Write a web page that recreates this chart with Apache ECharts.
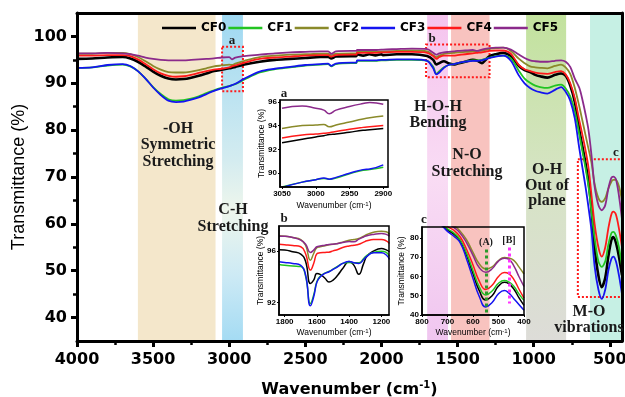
<!DOCTYPE html>
<html>
<head>
<meta charset="utf-8">
<script src="https://cdn.jsdelivr.net/npm/echarts@6/dist/echarts.min.js"></script>
<style>
  html, body { margin: 0; padding: 0; background: #fff; }
  #chart { width: 625px; height: 397px; }
</style>
</head>
<body>
<div id="chart"></div>
<script>
const names = ["CF0", "CF1", "CF2", "CF3", "CF4", "CF5"];
const colors = ["#000000", "#22c422", "#8a8a2a", "#1414f0", "#ff1a1a", "#8b2a8b"];

// main spectrum (cm-1 vs %T)
const wavenumber = [4000, 3900, 3800, 3700, 3650, 3600, 3550, 3500, 3450, 3400,
  3350, 3300, 3250, 3200, 3150, 3100, 3050, 3000, 2982, 2960,
  2900, 2800, 2700, 2600, 2500, 2400, 2350, 2330, 2300, 2200,
  2165, 2160, 2120, 2080, 2040, 2000, 1990, 1900, 1800, 1700,
  1660, 1640, 1620, 1590, 1560, 1525, 1500, 1450, 1400, 1370,
  1340, 1310, 1290, 1250, 1200, 1150, 1100, 1060, 1024, 990,
  958, 910, 860, 820, 790, 760, 730, 700, 680, 660,
  640, 620, 600, 575, 553, 530, 510, 490, 477, 460,
  440, 420];
const cf0 = [95.2, 95.3, 95.5, 95.6, 95.3, 94.6, 93.6, 92.5, 91.6, 91.0,
  90.8, 90.9, 91.2, 91.6, 92.1, 92.6, 92.9, 93.2, 93.3, 93.5,
  94.0, 94.6, 95.0, 95.2, 95.4, 95.6, 95.6, 95.3, 95.7, 95.8,
  95.8, 96.2, 95.9, 96.2, 95.95, 96.2, 96.0, 96.2, 96.2, 95.8,
  95.0, 94.0, 94.3, 94.7, 94.3, 94.0, 94.2, 94.6, 95.0, 94.8,
  94.3, 95.2, 95.8, 96.2, 96.5, 95.8, 93.8, 92.8, 92.4, 91.8,
  91.5, 91.2, 91.8, 92.1, 91.6, 89.5, 86.0, 80.0, 76.5, 73.0,
  69.0, 63.0, 55.0, 49.0, 46.5, 48.5, 53.0, 56.5, 57.2, 56.0,
  53.0, 49.0];
const cf1 = [93.3, 93.4, 93.8, 94.0, 93.6, 92.6, 91.0, 89.2, 87.7, 86.6,
  86.3, 86.4, 86.7, 87.2, 87.9, 88.5, 89.0, 89.4, 89.6, 89.8,
  90.8, 92.3, 93.0, 93.4, 93.8, 94.0, 94.1, 93.6, 94.1, 94.3,
  94.3, 94.8, 94.8, 94.8, 94.8, 94.9, 94.9, 95.0, 95.0, 94.8,
  93.5, 92.0, 92.6, 93.4, 93.9, 94.1, 94.3, 94.6, 94.9, 94.9,
  95.0, 95.3, 95.5, 95.8, 95.9, 95.3, 92.8, 91.0, 90.1, 89.5,
  89.2, 89.0, 89.5, 89.7, 88.9, 87.2, 84.0, 79.0, 75.5, 72.0,
  68.0, 62.5, 57.0, 52.0, 50.8, 52.0, 55.5, 58.0, 58.3, 57.5,
  55.0, 51.0];
const cf2 = [96.3, 96.3, 96.5, 96.5, 96.2, 95.6, 94.7, 93.7, 92.9, 92.4,
  92.3, 92.3, 92.5, 92.8, 93.2, 93.6, 93.8, 94.0, 93.9, 94.2,
  94.8, 95.6, 95.9, 96.1, 96.2, 96.3, 96.3, 96.0, 96.3, 96.4,
  96.4, 96.7, 96.7, 96.7, 96.7, 96.8, 96.8, 96.9, 97.0, 96.8,
  96.0, 95.6, 95.9, 96.3, 96.4, 96.5, 96.6, 96.7, 96.8, 96.9,
  97.0, 97.2, 97.4, 97.5, 97.6, 96.9, 95.3, 94.3, 93.6, 93.4,
  93.3, 93.2, 93.7, 94.0, 93.4, 92.0, 89.0, 85.0, 82.0, 79.0,
  76.0, 73.0, 68.5, 65.5, 64.7, 65.5, 67.5, 69.0, 69.4, 69.4,
  68.0, 65.0];
const cf3 = [93.3, 93.4, 93.9, 94.1, 93.7, 92.6, 91.0, 89.1, 87.5, 86.3,
  86.0, 86.1, 86.5, 87.0, 87.7, 88.4, 88.9, 89.4, 89.6, 89.9,
  91.0, 92.5, 93.1, 93.5, 93.9, 94.1, 94.2, 93.7, 94.2, 94.4,
  94.4, 94.9, 94.9, 94.9, 94.9, 95.0, 95.0, 95.1, 95.1, 94.8,
  93.2, 91.9, 92.3, 93.3, 93.9, 94.1, 94.3, 94.6, 94.8, 94.8,
  94.9, 95.2, 95.4, 95.7, 95.9, 94.8, 91.8, 90.0, 89.0, 88.4,
  88.1, 87.8, 88.6, 89.2, 88.2, 86.3, 82.5, 76.0, 72.0, 68.0,
  63.5, 58.5, 51.0, 46.0, 44.0, 46.0, 50.0, 52.5, 53.0, 52.0,
  49.0, 45.0];
const cf4 = [95.9, 95.9, 96.0, 96.0, 95.8, 95.1, 94.1, 93.0, 92.1, 91.6,
  91.4, 91.5, 91.8, 92.2, 92.6, 92.9, 93.1, 93.4, 93.6, 93.8,
  94.4, 95.2, 95.5, 95.7, 95.9, 96.0, 96.0, 95.7, 96.0, 96.1,
  96.1, 96.5, 96.5, 96.5, 96.5, 96.6, 96.6, 96.7, 96.7, 96.5,
  95.8, 95.2, 95.6, 95.9, 95.9, 95.9, 96.0, 96.2, 96.4, 96.5,
  96.6, 96.8, 96.9, 97.0, 97.0, 96.3, 94.0, 93.0, 92.6, 92.3,
  92.1, 92.0, 92.4, 92.6, 91.9, 90.0, 86.8, 82.0, 79.0, 75.8,
  72.0, 66.0, 60.0, 55.0, 53.0, 55.0, 59.0, 62.0, 62.6, 62.0,
  59.0, 55.0];
const cf5 = [96.4, 96.4, 96.5, 96.4, 96.2, 95.9, 95.5, 95.2, 95.0, 94.9,
  94.9, 94.9, 95.0, 95.1, 95.2, 95.3, 95.5, 95.6, 95.1, 95.5,
  95.8, 96.1, 96.4, 96.6, 96.7, 96.8, 96.8, 96.3, 96.8, 96.9,
  96.9, 97.1, 97.1, 97.1, 97.1, 97.2, 97.2, 97.3, 97.4, 97.3,
  96.5, 96.1, 96.4, 96.6, 96.7, 96.8, 96.9, 97.0, 97.1, 96.9,
  97.2, 97.4, 97.5, 97.6, 97.6, 97.2, 96.2, 95.4, 94.9, 94.7,
  94.6, 94.6, 94.8, 94.9, 94.6, 93.5, 91.0, 89.0, 86.5, 83.5,
  80.0, 74.5, 68.0, 64.0, 62.9, 64.0, 67.5, 69.8, 70.1, 69.5,
  66.0, 61.0];

// inset a: 3050-2900
const wavenumberA = [3050, 3020, 3000, 2988, 2980, 2970, 2950, 2930, 2920, 2900];
const insetA0 = [92.55, 92.85, 93.05, 93.15, 93.25, 93.3, 93.45, 93.6, 93.65, 93.75];
const insetA1 = [88.85, 89.25, 89.45, 89.55, 89.5, 89.6, 89.95, 90.25, 90.3, 90.5];
const insetA2 = [93.75, 94.0, 94.05, 94.1, 93.9, 94.05, 94.3, 94.55, 94.65, 94.8];
const insetA3 = [88.8, 89.25, 89.45, 89.6, 89.5, 89.65, 90.0, 90.3, 90.35, 90.7];
const insetA4 = [92.95, 93.2, 93.3, 93.35, 93.4, 93.5, 93.7, 93.85, 93.9, 94.0];
const insetA5 = [95.45, 95.65, 95.45, 95.3, 95.0, 95.3, 95.6, 95.85, 95.95, 95.8];

// inset b: 1835-1150
const wavenumberB = [1835, 1800, 1750, 1700, 1670, 1640, 1620, 1600, 1580, 1550,
  1525, 1500, 1470, 1440, 1400, 1370, 1340, 1310, 1290, 1250,
  1200, 1170, 1150];
const insetB0 = [96.1, 96.08, 95.95, 95.77, 95.2, 93.5, 93.75, 94.27, 94.2, 93.9,
  93.6, 93.75, 94.15, 94.65, 95.2, 94.9, 94.2, 95.05, 95.6, 96.0,
  96.2, 96.1, 95.95];
const insetB1 = [94.97, 94.9, 94.85, 94.8, 94.05, 91.95, 92.6, 93.65, 94.05, 94.3,
  94.42, 94.6, 94.83, 95.05, 95.12, 95.1, 95.1, 95.42, 95.68, 95.9,
  96.0, 95.9, 95.6];
const insetB2 = [97.19, 97.16, 97.06, 96.9, 96.46, 95.3, 95.82, 96.28, 96.34, 96.42,
  96.5, 96.54, 96.6, 96.7, 96.85, 96.9, 96.98, 97.16, 97.29, 97.47,
  97.55, 97.5, 97.3];
const insetB3 = [95.17, 95.12, 95.05, 94.9, 94.15, 91.77, 92.46, 93.6, 94.0, 94.27,
  94.4, 94.58, 94.8, 95.05, 95.2, 95.1, 95.05, 95.35, 95.6, 95.87,
  95.87, 95.7, 95.35];
const insetB4 = [96.54, 96.5, 96.44, 96.34, 95.8, 94.53, 95.05, 95.8, 95.87, 95.9,
  95.92, 96.02, 96.13, 96.28, 96.4, 96.46, 96.54, 96.7, 96.8, 96.9,
  96.9, 96.8, 96.6];
const insetB5 = [97.16, 97.16, 97.06, 96.85, 96.54, 95.9, 96.08, 96.34, 96.4, 96.46,
  96.52, 96.54, 96.6, 96.67, 96.75, 96.72, 96.93, 97.1, 97.2, 97.3,
  97.37, 97.3, 97.16];

// inset c: 790-400
const wavenumberC = [790, 760, 730, 700, 675, 650, 625, 600, 575, 550,
  525, 500, 477, 460, 440, 420, 400];
const insetC0 = [96, 92, 88.5, 84.2, 82, 78.5, 71, 61.5, 52.5, 47.8,
  50, 55, 57, 56.3, 53.5, 49, 45];
const insetC1 = [96.5, 92.5, 89, 84.8, 82.6, 79, 72, 63, 54.5, 50.4,
  52.5, 56.5, 57.9, 57.2, 55, 51, 47.6];
const insetC2 = [98, 95.5, 92, 89, 86.5, 83.5, 79, 72.5, 66.5, 63.9,
  65, 68.3, 69.8, 69.6, 68.4, 65, 61.3];
const insetC3 = [95, 91, 87.5, 83.4, 80.9, 77.4, 69, 59, 49.5, 44.2,
  46.5, 51, 52.7, 51.5, 48.5, 45.5, 42.5];
const insetC4 = [97, 93.5, 90, 86, 84, 80.5, 74, 66, 57.5, 53.2,
  55.5, 60, 62.1, 61.5, 58.5, 53.5, 48.8];
const insetC5 = [98, 95, 91.5, 88, 85.5, 82.5, 77.5, 71, 64.5, 62.2,
  64, 68, 69.5, 69, 65.5, 60, 54.8];
const peakA = 547;
const peakB = 456;

// shaded assignment bands [from, to]
const bandOH = [3600, 3090];
const bandCH = [3047, 2910];
const bandHOH = [1700, 1563];
const bandNO = [1543, 1290];
const bandOHout = [1050, 787];
const bandMO = [630, 420];

// zoom boxes [wn1, T1, wn2, T2]
const boxA = [3047, 97.8, 2910, 88.3];
const boxB = [1707, 98.3, 1290, 91.3];
const boxC = [710, 73.8, 420, 44.4];

// ticks
const xMajor = [4000, 3500, 3000, 2500, 2000, 1500, 1000, 500];
const xMinor = [3750, 3250, 2750, 2250, 1750, 1250, 750];
const yMajor = [40, 50, 60, 70, 80, 90, 100];
const yMinor = [45, 55, 65, 75, 85, 95];
const xTicksA = [3050, 3000, 2950, 2900];
const yTicksA = [90, 92, 94, 96];
const xTicksB = [1800, 1600, 1400, 1200];
const yTicksB = [92, 96];
const xTicksC = [800, 700, 600, 500, 400];
const yTicksC = [40, 50, 60, 70, 80];

const mainData = [cf0, cf1, cf2, cf3, cf4, cf5];
const insetAData = [insetA0, insetA1, insetA2, insetA3, insetA4, insetA5];
const insetBData = [insetB0, insetB1, insetB2, insetB3, insetB4, insetB5];
const insetCData = [insetC0, insetC1, insetC2, insetC3, insetC4, insetC5];

const sans = "DejaVu Sans";
const small = "Liberation Sans";
const serif = "Liberation Serif";
const plain = (v) => String(v);
const grad = (stops) => new echarts.graphic.LinearGradient(0, 0, 0, 1,
  stops.map(([offset, color]) => ({ offset, color })));

const chart = echarts.init(document.getElementById("chart"), null, { renderer: "canvas" });

const band = (range, color) => [{ xAxis: range[0], itemStyle: { color } }, { xAxis: range[1] }];
const box = (b) => [{ xAxis: b[0], yAxis: b[1] }, { xAxis: b[2], yAxis: b[3] }];

const insetName = {
  fontFamily: small, fontSize: 8.5, color: "#000",
  rich: { sup: { fontSize: 6, verticalAlign: "top", lineHeight: 6, fontFamily: small } },
};
const insetLabel = (ticks) => ({
  customValues: ticks, margin: 3, formatter: plain, showMinLabel: true, showMaxLabel: true,
  hideOverlap: false, fontFamily: small, fontWeight: "bold", fontSize: 8, color: "#000",
});
// axes sit above the shaded bands (z 10)
const insetX = (grid, min, max, ticks, gap) => ({
  gridIndex: grid, type: "value", inverse: true, min, max, z: 10,
  axisLine: { lineStyle: { color: "#000", width: 1.5 } },
  axisTick: { customValues: ticks, length: 2, lineStyle: { color: "#000", width: 1 } },
  axisLabel: insetLabel(ticks),
  splitLine: { show: false },
  name: "Wavenumber (cm{sup|-1})", nameLocation: "middle", nameGap: gap, nameMoveOverlap: false,
  nameTextStyle: insetName,
});
const insetY = (grid, min, max, ticks, gap) => ({
  gridIndex: grid, type: "value", min, max, z: 10,
  axisLine: { lineStyle: { color: "#000", width: 1.5 } },
  axisTick: { customValues: ticks, length: 2, lineStyle: { color: "#000", width: 1 } },
  axisLabel: insetLabel(ticks),
  splitLine: { show: false },
  name: "Transmittance (%)", nameLocation: "middle", nameGap: gap, nameMoveOverlap: false,
  nameTextStyle: insetName,
});
const insetSeries = (axis, xs, data) => data.map((vals, i) => ({
  name: names[i], type: "line", xAxisIndex: axis, yAxisIndex: axis,
  data: xs.map((w, j) => [w, vals[j]]),
  symbol: "none", smooth: true, clip: true, z: 3,
  lineStyle: { width: 1.5, color: colors[i] }, itemStyle: { color: colors[i] },
}));

const texts = [
  ["-OH\nSymmetric\nStretching", 178, 145, 16.5],
  ["C-H\nStretching", 233, 218.5, 17],
  ["H-O-H\nBending", 438, 115, 16.5],
  ["N-O\nStretching", 467, 163.5, 16.5],
  ["O-H\nOut of\nplane", 547, 185.5, 15.5],
  ["M-O\nvibrations", 589, 320, 16.5],
];
const tags = [
  ["a", 232, 41, 13], ["b", 432, 39, 13], ["c", 616, 153, 13],
  ["a", 284, 94, 13], ["b", 284, 219, 13], ["c", 424, 220, 13],
  ["(A)", 486, 242, 10], ["[B]", 509, 240, 10],
];
const textEl = (text, x, y, size, lh) => ({
  type: "text", z: 50, silent: true,
  style: {
    text, x, y, fill: "#1a1a1a", lineHeight: lh || size,
    font: `bold ${size}px "${serif}"`,
    textAlign: "center", align: "center", textVerticalAlign: "middle", verticalAlign: "middle",
  },
});
const gridBox = (left, top, width, height, framed) => ({
  left, top, width, height, outerBoundsMode: "none", containLabel: false, z: 10,
  show: !!framed, borderColor: "#000", borderWidth: 1.5, backgroundColor: "transparent",
});

chart.setOption({
  animation: false,
  backgroundColor: "#fff",
  legend: {
    data: names, left: 157, top: 17, itemWidth: 34, itemHeight: 2.5, itemGap: 2,
    icon: "rect",
    textStyle: { fontFamily: sans, fontWeight: "bold", fontSize: 12, color: "#000" },
  },
  grid: [
    gridBox(77, 13, 545, 328),
    gridBox(77, 13, 545, 328),
    gridBox(280, 100, 108, 87, true),
    gridBox(279, 226, 110, 89, true),
    gridBox(422, 227, 102, 88, true),
  ],
  xAxis: [
    {
      gridIndex: 0, type: "value", inverse: true, min: 420, max: 4000, position: "bottom", z: 10,
      axisLine: { lineStyle: { color: "#000", width: 3 } },
      axisTick: { customValues: xMajor, length: 6, lineStyle: { color: "#000", width: 3 } },
      axisLabel: {
        customValues: xMajor, margin: 11, formatter: plain, showMinLabel: true, showMaxLabel: true,
        hideOverlap: false, fontFamily: sans, fontWeight: "bold", fontSize: 16, color: "#000",
      },
      splitLine: { show: false },
      name: "Wavenumber (cm{sup|-1})", nameLocation: "middle", nameGap: 39,
      nameTextStyle: {
        fontFamily: sans, fontWeight: "bold", fontSize: 16, color: "#000", lineHeight: 20,
        rich: { sup: { fontFamily: sans, fontWeight: "bold", fontSize: 10, verticalAlign: "top", lineHeight: 10 } },
      },
    },
    {
      gridIndex: 0, type: "value", inverse: true, min: 420, max: 4000, position: "top", z: 10,
      axisLine: { lineStyle: { color: "#000", width: 3 } },
      axisTick: { show: false }, axisLabel: { show: false }, splitLine: { show: false },
    },
    {
      gridIndex: 1, type: "value", inverse: true, min: 420, max: 4000, position: "bottom", z: 10,
      axisLine: { show: false },
      axisTick: { customValues: xMinor, length: 4, lineStyle: { color: "#000", width: 2.5 } },
      axisLabel: { show: false }, splitLine: { show: false },
    },
    insetX(2, 2893, 3053, xTicksA, 14),
    insetX(3, 1153, 1835, xTicksB, 13),
    insetX(4, 400, 800, xTicksC, 13),
  ],
  yAxis: [
    {
      gridIndex: 0, type: "value", min: 35, max: 105, position: "left", z: 10,
      axisLine: { lineStyle: { color: "#000", width: 3 } },
      axisTick: { customValues: yMajor, length: 6, lineStyle: { color: "#000", width: 3 } },
      axisLabel: {
        customValues: yMajor, margin: 10, formatter: plain, hideOverlap: false,
        fontFamily: sans, fontWeight: "bold", fontSize: 16, color: "#000",
      },
      splitLine: { show: false },
      name: "Transmittance (%)", nameLocation: "middle", nameGap: 49, nameMoveOverlap: false,
      nameTextStyle: { fontFamily: small, fontSize: 18, color: "#000" },
    },
    {
      gridIndex: 0, type: "value", min: 35, max: 105, position: "right", z: 10,
      axisLine: { lineStyle: { color: "#000", width: 3 } },
      axisTick: { show: false }, axisLabel: { show: false }, splitLine: { show: false },
    },
    {
      gridIndex: 1, type: "value", min: 35, max: 105, position: "left", z: 10,
      axisLine: { show: false },
      axisTick: { customValues: yMinor, length: 4, lineStyle: { color: "#000", width: 2.5 } },
      axisLabel: { show: false }, splitLine: { show: false },
    },
    insetY(2, 88.84, 96.15, yTicksA, 14),
    insetY(3, 91.05, 97.95, yTicksB, 14),
    insetY(4, 40, 85.7, yTicksC, 16),
  ],
  series: [
    {
      type: "line", xAxisIndex: 0, yAxisIndex: 0, data: [], silent: true, z: 1,
      markArea: {
        silent: true,
        data: [
          band(bandOH, "#f4e7cb"),
          band(bandCH, grad([[0, "#9ed8f2"], [0.45, "#d4ecf0"], [0.6, "#eef6ec"], [0.8, "#cdeaf5"], [1, "#a4dbf3"]])),
          band(bandHOH, grad([[0, "#f5c4ee"], [0.5, "#f9dcf4"], [1, "#f0c6f0"]])),
          band(bandNO, "#f8c3bf"),
          band(bandOHout, grad([[0, "#c2e29d"], [0.5, "#d6e4c4"], [1, "#dddcd8"]])),
          band(bandMO, "#c6f0e4"),
        ],
      },
    },
    ...mainData.map((vals, i) => ({
      name: names[i], type: "line", xAxisIndex: 0, yAxisIndex: 0,
      data: wavenumber.map((w, j) => [w, vals[j]]),
      symbol: "none", smooth: 0.3, z: 3,
      lineStyle: { width: i === 0 ? 2.6 : 1.8, color: colors[i] },
      itemStyle: { color: colors[i] },
    })),
    {
      type: "line", xAxisIndex: 0, yAxisIndex: 0, data: [], silent: true, z: 5,
      markArea: {
        silent: true,
        itemStyle: { color: "rgba(0,0,0,0)", borderColor: "#ff1a1a", borderWidth: 2, borderType: "dotted" },
        data: [box(boxA), box(boxB), box(boxC)],
      },
    },
    ...insetSeries(3, wavenumberA, insetAData),
    ...insetSeries(4, wavenumberB, insetBData),
    ...insetSeries(5, wavenumberC, insetCData),
    {
      type: "line", xAxisIndex: 5, yAxisIndex: 5, data: [], silent: true, z: 6,
      markLine: {
        silent: true, symbol: "none", label: { show: false },
        data: [
          [{ coord: [peakA, 74], lineStyle: { color: "#2c9a2c", width: 3, type: "dotted" } }, { coord: [peakA, 41] }],
          [{ coord: [peakB, 75], lineStyle: { color: "#ff33ff", width: 3, type: "dotted" } }, { coord: [peakB, 46] }],
        ],
      },
    },
  ],
  graphic: [
    ...texts.map(([t, x, y, lh]) => textEl(t, x, y, 16, lh)),
    ...tags.map(([t, x, y, s]) => textEl(t, x, y, s)),
  ],
});
</script>
</body>
</html>
